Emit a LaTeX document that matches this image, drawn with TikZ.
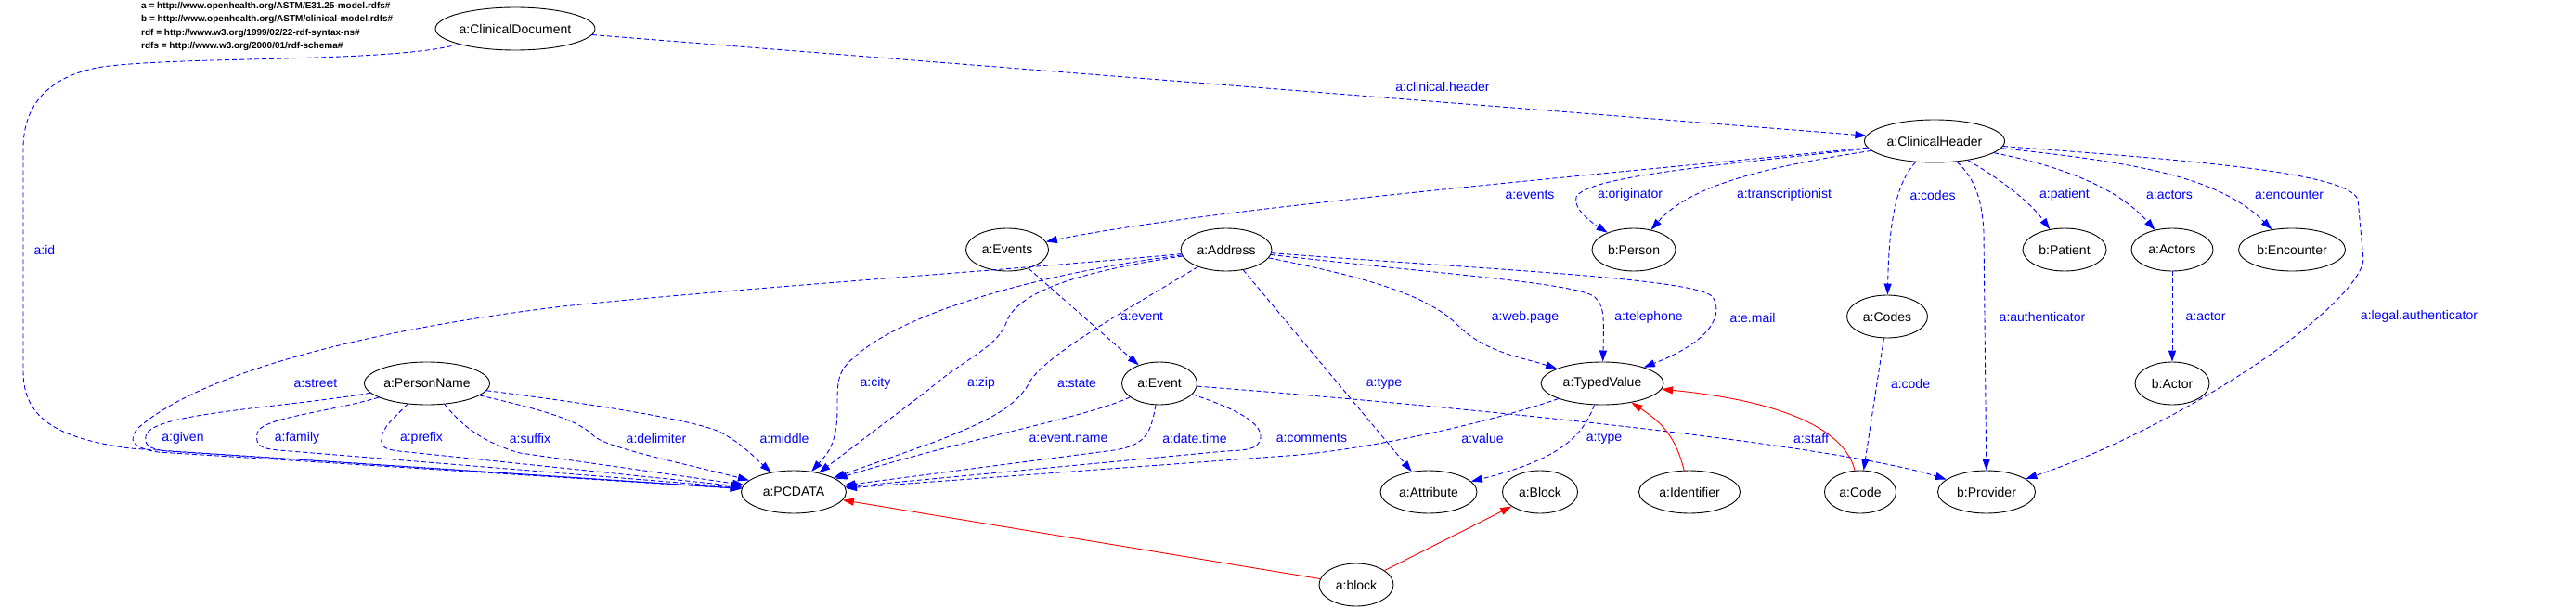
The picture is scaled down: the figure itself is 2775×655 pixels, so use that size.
\documentclass[tikz,border=0pt]{standalone}
\usepackage{fontspec}
\setmainfont{Liberation Sans}
\usetikzlibrary{arrows.meta, shapes.geometric}

\begin{document}
\begin{tikzpicture}[
  x=1pt, y=-1pt,
  ent/.style={draw, ellipse, line width=0.9pt, inner sep=0pt, minimum width=#1, minimum height=46pt, font=\fontsize{14}{16}\selectfont},
  ent/.default=81pt,
  prop/.style={blue, line width=0.9pt, dash pattern=on 5pt off 3pt, -{Triangle[length=12pt, width=8pt]}},
  link/.style={red, line width=0.9pt, -{Triangle[length=12pt, width=8pt]}},
  lbl/.style={text=blue, inner sep=0pt, font=\fontsize{14}{16}\selectfont}
]
\useasboundingbox (0,0) rectangle (2775,655);

\node[anchor=north west, align=left, inner sep=0pt, font=\fontsize{10}{14.5}\selectfont\bfseries] (ns) at (152,2)
  {a = http://www.openhealth.org/ASTM/E31.25-model.rdfs\#\\
   b = http://www.openhealth.org/ASTM/clinical-model.rdfs\#\\
   rdf = http://www.w3.org/1999/02/22-rdf-syntax-ns\#\\
   rdfs = http://www.w3.org/2000/01/rdf-schema\#};

% classes
\node[ent=172pt] (cdoc) at (555,31) {a:ClinicalDocument};
\node[ent=151pt] (chead) at (2084,152) {a:ClinicalHeader};
\node[ent=89pt] (events) at (1085,269) {a:Events};
\node[ent=98pt] (address) at (1321,269) {a:Address};
\node[ent=90pt] (person) at (1760,269) {b:Person};
\node[ent=90pt] (patient) at (2224,269) {b:Patient};
\node[ent=88pt] (actors) at (2340,269) {a:Actors};
\node[ent=115pt] (encounter) at (2469,269) {b:Encounter};
\node[ent=87pt] (codes) at (2033,341) {a:Codes};
\node[ent=80pt] (actor) at (2340,413) {b:Actor};
\node[ent=135pt] (pname) at (460,413) {a:PersonName};
\node[ent] (event) at (1249,413) {a:Event};
\node[ent=132pt] (tvalue) at (1726,413) {a:TypedValue};
\node[ent=113pt] (pcdata) at (855,530) {a:PCDATA};
\node[ent=104pt] (attribute) at (1539,530) {a:Attribute};
\node[ent] (block) at (1659,530) {a:Block};
\node[ent=109pt] (identifier) at (1820,530) {a:Identifier};
\node[ent=77pt] (code) at (2004,530) {a:Code};
\node[ent=105pt] (provider) at (2140,530) {b:Provider};
\node[ent=80pt] (blk) at (1461,630) {a:block};

% properties
\draw[prop] (cdoc) -- (chead);
\node[lbl] (l-header) at (1554,93) {a:clinical.header};
\draw[prop] (cdoc) .. controls (420,68) and (200,60) .. (110,72) .. controls (50,82) and (25,115) .. (25,160)
  -- (25,400) .. controls (25,450) and (60,472) .. (140,483) -- (pcdata);
\node[lbl] (l-id) at (48,269) {a:id};

\draw[prop] (chead) .. controls (1700,190) and (1300,225) .. (events);
\node[lbl] (l-events) at (1648,210) {a:events};
\draw[prop] (chead) .. controls (1850,178) and (1710,190) .. (1698,212) .. controls (1694,225) and (1715,240) .. (person);
\node[lbl] (l-orig) at (1756,210) {a:originator};
\draw[prop] (chead) .. controls (1900,180) and (1820,200) .. (person);
\node[lbl] (l-trans) at (1922,210) {a:transcriptionist};
\draw[prop] (chead) .. controls (2045,195) and (2035,230) .. (codes);
\node[lbl] (l-codes) at (2082,210) {a:codes};
\draw[prop] (chead) .. controls (2125,190) and (2135,210) .. (2137,250) -- (provider);
\node[lbl] (l-auth) at (2200,341) {a:authenticator};
\draw[prop] (chead) .. controls (2150,190) and (2185,215) .. (patient);
\node[lbl] (l-patient) at (2224,210) {a:patient};
\draw[prop] (chead) .. controls (2200,175) and (2275,195) .. (actors);
\node[lbl] (l-actors) at (2337,210) {a:actors};
\draw[prop] (chead) .. controls (2300,175) and (2390,190) .. (encounter);
\node[lbl] (l-enc) at (2466,210) {a:encounter};
\draw[prop] (chead) .. controls (2350,172) and (2530,185) .. (2540,215) -- (2546,280)
  .. controls (2540,330) and (2350,460) .. (provider);
\node[lbl] (l-legal) at (2606,341) {a:legal.authenticator};
\draw[prop] (actors) -- (actor);
\node[lbl] (l-actor) at (2376,341) {a:actor};
\draw[prop] (codes) -- (code);
\node[lbl] (l-code) at (2058,413) {a:code};
\draw[prop] (events) -- (event);
\node[lbl] (l-event) at (1230,341) {a:event};

\draw[prop] (address) .. controls (1100,290) and (800,310) .. (606,330) .. controls (400,355) and (220,400) .. (150,460)
  .. controls (135,475) and (145,483) .. (170,487) -- (pcdata);
\node[lbl] (l-street) at (340,413) {a:street};
\draw[prop] (address) .. controls (1150,290) and (980,330) .. (920,385) .. controls (902,400) and (902,410) .. (902,440)
  .. controls (902,480) and (890,490) .. (pcdata);
\node[lbl] (l-city) at (943,413) {a:city};
\draw[prop] (address) .. controls (1180,290) and (1100,310) .. (1085,345) .. controls (1075,375) and (1040,385) .. (1000,420) -- (pcdata);
\node[lbl] (l-zip) at (1057,413) {a:zip};
\draw[prop] (address) .. controls (1220,330) and (1130,380) .. (1110,410) .. controls (1095,440) and (1060,455) .. (1010,475) -- (pcdata);
\node[lbl] (l-state) at (1160,413) {a:state};
\draw[prop] (address) -- (attribute);
\node[lbl] (l-atype) at (1491,413) {a:type};
\draw[prop] (address) .. controls (1480,300) and (1540,320) .. (1570,350) .. controls (1600,380) and (1640,385) .. (tvalue);
\node[lbl] (l-web) at (1643,342) {a:web.page};
\draw[prop] (address) .. controls (1550,295) and (1700,305) .. (1718,320) .. controls (1728,330) and (1728,340) .. (tvalue);
\node[lbl] (l-tel) at (1776,342) {a:telephone};
\draw[prop] (address) .. controls (1600,290) and (1830,300) .. (1845,320) .. controls (1855,335) and (1850,365) .. (tvalue);
\node[lbl] (l-mail) at (1888,342) {a:e.mail};

\draw[prop] (event) .. controls (1170,450) and (1050,470) .. (pcdata);
\node[lbl] (l-ename) at (1151,472) {a:event.name};
\draw[prop] (event) .. controls (1240,465) and (1235,480) .. (1200,485) -- (pcdata);
\node[lbl] (l-date) at (1287,472) {a:date.time};
\draw[prop] (event) .. controls (1330,440) and (1360,455) .. (1358,472) .. controls (1356,485) and (1340,485) .. (1320,486) -- (pcdata);
\node[lbl] (l-comm) at (1413,472) {a:comments};
\draw[prop] (event) .. controls (1600,440) and (1980,480) .. (provider);
\node[lbl] (l-staff) at (1951,472) {a:staff};
\draw[prop] (tvalue) .. controls (1620,450) and (1500,480) .. (1400,490) -- (pcdata);
\node[lbl] (l-value) at (1597,472) {a:value};
\draw[prop] (tvalue) .. controls (1705,470) and (1680,495) .. (attribute);
\node[lbl] (l-ttype) at (1728,472) {a:type};

\draw[prop] (pname) .. controls (300,440) and (160,445) .. (157,470) .. controls (155,482) and (165,484) .. (180,486) -- (pcdata);
\node[lbl] (l-given) at (197,472) {a:given};
\draw[prop] (pname) .. controls (350,445) and (280,450) .. (277,467) .. controls (275,480) and (280,483) .. (300,485) -- (pcdata);
\node[lbl] (l-family) at (320,472) {a:family};
\draw[prop] (pname) .. controls (425,450) and (412,460) .. (411,472) .. controls (410,482) and (415,484) .. (430,486) -- (pcdata);
\node[lbl] (l-prefix) at (454,472) {a:prefix};
\draw[prop] (pname) .. controls (495,455) and (515,475) .. (560,488) -- (pcdata);
\node[lbl] (l-suffix) at (571,472) {a:suffix};
\draw[prop] (pname) .. controls (600,445) and (625,455) .. (640,470) .. controls (655,483) and (740,500) .. (pcdata);
\node[lbl] (l-delim) at (707,472) {a:delimiter};
\draw[prop] (pname) .. controls (600,430) and (740,450) .. (775,465) .. controls (800,478) and (815,495) .. (pcdata);
\node[lbl] (l-middle) at (845,472) {a:middle};

% subclass links
\draw[link] (blk) -- (pcdata);
\draw[link] (blk) -- (block);
\draw[link] (identifier) .. controls (1805,470) and (1790,455) .. (tvalue);
\draw[link] (code) .. controls (1985,455) and (1900,430) .. (tvalue);
\end{tikzpicture}
\end{document}
